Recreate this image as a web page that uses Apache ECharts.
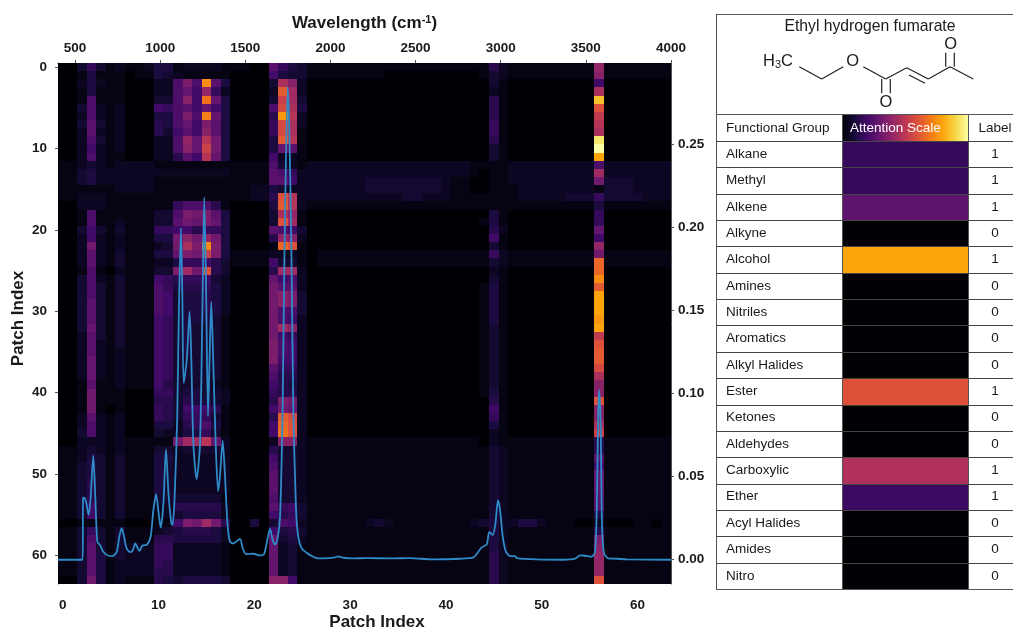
<!DOCTYPE html>
<html><head><meta charset="utf-8">
<style>html,body{margin:0;padding:0;background:#fff}#c{width:1013px;height:629px;filter:blur(0.55px)}</style>
<script src="https://cdn.jsdelivr.net/npm/echarts@6/dist/echarts.min.js"></script>
</head><body><div id="c"></div>
<script>
// Attention map: one string per patch row, one base-36 character per column (value = level / 35).
const heatRows = [
"00 36312 112 44122221 1100 9643 111111111111111111 152 111111111 e 1111111",
"00 14111 011 43211111 0000 7433 111111110000000000 132 111111111 d 1111111",
"00 24211 000 228c8q94 0000 3gd2 000000000000000000 031 000000000 7 0000000",
"00 14111 000 228a7e62 0000 2mf2 000000000000000000 021 000000000 g 0000000",
"00 18111 000 338d7oa4 0000 3jf3 000000000000000000 051 000000000 u 0000000",
"00 38212 000 76897a74 0000 8kg4 000000000000000000 051 000000000 l 0000000",
"00 28212 000 448c8pa4 0000 5rh2 000000000000000000 051 000000000 i 0000000",
"00 39312 000 548a7c94 0000 6kg2 000000000000000000 061 000000000 h 0000000",
"00 29212 000 53797d94 0000 6kg1 000000000000000000 061 000000000 g 0000000",
"00 28312 000 228eahb4 0000 4mh1 000000000000000000 051 000000000 x 0000000",
"00 27212 000 228dajb4 0000 4a91 000000000000000000 031 000000000 z 0000000",
"00 28211 000 22597ha4 0000 7221 000000000000000000 031 000000000 s 0000000",
"11 23212 222 11111111 1111 8321 222222222222222221 111 222222222 8 2222222",
"11 34222 222 22222222 1111 9862 222222222222222221 011 222222222 f 2222222",
"11 34222 222 11111111 1111 9972 222222333333332110 011 222222222 b 3332222",
"11 11112 222 11111111 1122 4322 222222333333332110 011 122222222 1 3332222",
"11 22211 111 11111111 1122 5lh2 222222222233222111 111 122222333 6 3333222",
"00 22211 111 11688851 0000 4mh2 111111111111111111 111 111111111 4 1111111",
"00 18111 111 338cbc94 0000 3ge1 000000000000000000 041 000000000 6 0000000",
"00 18112 111 339baca4 0000 3lf1 000000000000000000 141 000000000 6 0000000",
"00 37313 111 66775664 0000 9873 000000000000000000 052 000000000 a 0000000",
"00 27212 111 44bdbeb4 0000 5ed2 000000000000000000 071 000000000 7 0000000",
"00 2b212 111 23bgcqc4 0000 1nl1 000000000000000000 031 000000000 e 0000000",
"00 29213 111 44acbjc4 1111 2221 011111111111111111 162 111111111 b 1111111",
"00 29213 111 22466753 1111 7331 011111111111111111 132 111111111 n 1111111",
"00 18102 111 33cfbl53 0000 5ff2 000000000000000000 021 000000000 n 0000000",
"00 38213 111 76566732 0000 a782 000000000000000000 031 000000000 q 0000000",
"00 38313 111 86455642 0000 b992 000000000000000000 141 000000000 m 0000000",
"00 38313 111 87344542 0000 bdc3 000000000000000000 141 000000000 s 0000000",
"00 39313 111 87344542 0000 bdc3 000000000000000000 141 000000000 s 0000000",
"00 39313 111 87344542 0000 b883 000000000000000000 141 000000000 s 0000000",
"00 39313 111 76344431 0000 b872 000000000000000000 141 000000000 r 0000000",
"00 3a313 111 76343331 0000 bfd2 000000000000000000 131 000000000 s 0000000",
"00 29313 111 76343331 0000 b762 000000000000000000 131 000000000 i 0000000",
"00 29213 111 76343331 0000 c872 000000000000000000 131 000000000 l 0000000",
"00 29212 111 76343331 0000 c872 000000000000000000 131 000000000 m 0000000",
"00 2a212 111 76333331 0000 c772 000000000000000000 131 000000000 m 0000000",
"00 2a212 111 76333331 0000 9662 000000000000000000 131 000000000 k 0000000",
"00 2a212 111 76333331 0000 8552 000000000000000000 131 000000000 g 0000000",
"00 19112 111 75333321 0000 7542 000000000000000000 131 000000000 d 0000000",
"00 1b111 000 66344332 0000 6552 000000000000000000 141 000000000 d 0000000",
"00 1b111 000 55354432 0000 5cb2 000000000000000000 051 000000000 l 0000000",
"00 1b101 000 65377751 0000 7ba2 000000000000000000 071 000000000 d 0000000",
"00 29212 000 65366631 0000 5mk2 000000000000000000 061 000000000 d 0000000",
"00 28212 000 44256841 0000 7nl2 000000000000000000 041 000000000 g 0000000",
"00 38212 000 32244631 0000 7ol2 000000000000000000 021 000000000 j 0000000",
"00 22212 111 11bffha2 0000 2dd2 111111111111111111 021 111111111 5 1111111",
"11 23212 111 33233332 0000 5332 111111111111111111 132 111111111 5 1111111",
"11 24313 111 44222222 0000 7332 111111111111111111 132 111111111 9 1111111",
"11 34313 111 43222222 0000 8332 111111111111111111 132 111111111 7 1111111",
"11 34313 111 43222222 0000 9332 111111111111111111 132 111111111 a 1111111",
"11 35313 111 43222222 0000 9332 111111111111111111 132 111111111 a 1111111",
"11 35313 111 43222222 0000 9332 111111111111111111 132 111111111 a 1111111",
"11 35313 111 33333331 0000 8332 111111111111111111 132 111111111 9 1111111",
"11 37313 111 22555552 0000 9673 111111111111111111 132 111111111 9 1111111",
"11 37313 111 12344442 0000 7563 111111111111111111 132 111111111 4 1111111",
"00 11111 000 117cbfb5 0040 3872 111111232111111112 342 244211100 2 0001101",
"11 36313 111 23455542 0000 7453 111111111111111111 142 111111111 5 1111111",
"11 38313 111 55444442 0000 a342 111111111111111111 142 111111111 c 1111111",
"11 39313 222 66222221 0000 a231 111111111111111111 142 111111111 d 1111111",
"11 39413 222 66222221 0000 a231 111111111111111111 152 111111111 e 1111111",
"11 39412 222 65222221 0000 a231 111111111111111111 152 111111111 e 1111111",
"11 39412 222 55222221 0000 a231 111111111111111111 152 111111111 e 1111111",
"00 3b412 111 54344443 0000 dd71 111111111111111111 152 111111111 l 1111111"
];
// IR spectrum
const specWave = [400,545,547,553,564,580,592,607,619,631,647,666,696,721,745,760,774,788,803,823,838,854,866,878,897,921,944,960,976,991,1003,1019,1034,1050,1066,1073,1085,1100,1110,1122,1130,1138,1156,1173,1183,1195,1214,1234,1248,1259,1270,1281,1290,1300,1312,1326,1340,1351,1367,1381,1395,1410,1430,1469,1485,1504,1547,1586,1610,1625,1645,1661,1674,1688,1704,1719,1729,1749,1759,1772,1782,1798,1811,1831,1860,1890,1919,1968,2017,2046,2076,2134,2213,2350,2467,2600,2761,2839,2869,2888,2918,2933,2953,2969,2984,2996,3012,3031,3055,3084,3094,3211,3368,3436,3466,3495,3534,3554,3564,3573,3579,3587,3595,3607,3632,3681,3740,4000];
const specAbs = [0,0,.037,.0373,.035,.027,.038,.0626,.038,.0108,.0088,.0048,.0024,.0022,.0048,.0138,.019,.0138,.0068,.0046,.0054,.0098,.0074,.0054,.0086,.009,.0138,.0299,.0395,.0279,.0193,.0339,.0664,.0379,.0219,.0209,.0379,.085,.15,.1995,.16,.1063,.12,.1492,.12,.07,.0483,.07,.15,.218,.16,.0864,.12,.1552,.118,.07,.0413,.05,.0716,.05,.0219,.0108,.0098,.0126,.0068,.0034,.0036,.0026,.0034,.0098,.0185,.0118,.0092,.0118,.0259,.09,.1763,.2846,.2567,.1763,.09,.03,.0138,.0068,.0042,.0022,.001,.0008,.0012,.002,.0012,.0008,.001,.0008,.001,.0002,.0006,.0014,.0048,.0074,.0092,.0168,.0148,.0219,.0359,.03,.0138,.0048,.0022,.0022,.001,.0002,0,.0006,.0026,.0024,.0018,.0048,.03,.09,.102,.08,.02,.0038,.0008,.0006,.0002,0];
const patchLabels = Array.from({length:64},(_, i)=>String(i));
const waveTicks = [500,1000,1500,2000,2500,3000,3500,4000];
const absTicks = [0,0.05,0.10,0.15,0.20,0.25];
// Functional-group table
const groups = ["Alkane","Methyl","Alkene","Alkyne","Alcohol","Amines","Nitriles","Aromatics","Alkyl Halides","Ester","Ketones","Aldehydes","Carboxylic","Ether","Acyl Halides","Amides","Nitro"];
const attention = [0.17,0.17,0.27,0,0.8,0,0,0,0,0.6,0,0,0.47,0.18,0,0,0];
const labels = [1,1,1,0,1,0,0,0,0,1,0,0,1,1,0,0,0];
const inferno = ['#000004','#160b39','#420a68','#6a176e','#932667','#bc3754','#dd513a','#f37819','#fca50a','#f6d746','#fcffa4'];

const heatData = [];
heatRows.forEach((row, y) => {
  row.replace(/ /g,'').split('').forEach((c, x) => heatData.push([x, y, parseInt(c,36)/35]));
});
const FONT = '"Liberation Sans", Arial, sans-serif';
const axisLine = {show:true, lineStyle:{color:'#555', width:1}};
const tick = {show:true, length:3, lineStyle:{color:'#555', width:1}};
const tl = {color:'#1a1a1a', fontFamily:FONT, fontWeight:'bold', fontSize:13.5};
const nameStyle = {color:'#1a1a1a', fontFamily:FONT, fontWeight:'bold', fontSize:17};

const L = (x1,y1,x2,y2,w,c)=>({type:'line', shape:{x1,y1,x2,y2}, style:{stroke:c||'#555', lineWidth:w||1}, z:50, silent:true});
const T = (x,y,text,o)=>({type:'text', x, y, z:51, silent:true, style:Object.assign({text, fill:'#1a1a1a', font:'13.5px '+FONT, align:'left', verticalAlign:'middle'}, o||{})});
const g = [];
const rowH = 448/17, top0 = 141;
// table frame
g.push(L(716,14.5,1013,14.5), L(716.5,14,716.5,589), L(716,114.5,1013,114.5), L(716,589.5,1013,589.5),
       L(842.5,114,842.5,589), L(968.5,114,968.5,589));
for (let i=0;i<groups.length;i++){ const y=Math.round(top0+i*rowH)+.5; g.push(L(716,y,1013,y,1,'#444')); }
g.push({type:'rect', shape:{x:842,y:115,width:126,height:26}, z:49, silent:true,
  style:{fill:new echarts.graphic.LinearGradient(0,0,1,0,inferno.map((c,i)=>({offset:i/10,color:c})))}});
g.push(T(726,128,'Functional Group'), T(850,128,'Attention Scale',{fill:'#fff'}), T(995,128,'Label',{align:'center'}));
g.push(T(870,27,'Ethyl hydrogen fumarate',{align:'center',font:'15.7px '+FONT}));
// molecule drawing
const bonds=[[799.3,66.7,821.7,79],[821.7,79,843.3,66.7],[863.3,66.7,885.7,79],[881.7,79,881.7,93.3],[890.3,79,890.3,93.3],
 [885.7,79,906.7,67.7],[906.7,67.7,928.3,79],[909,75,925,83.3],[928.3,79,950,66.7],[945.7,66.7,945.7,52.7],[954.3,66.7,954.3,52.7],[950,66.7,973.3,79]];
bonds.forEach(b=>g.push(L(b[0],b[1],b[2],b[3],1.2,'#222')));
g.push(T(778,61,'H{s|3}C',{align:'center',font:'16.5px '+FONT,rich:{s:{font:'11px '+FONT,verticalAlign:'bottom',padding:[8,0,0,0],fill:'#1a1a1a'}}}));
g.push(T(852.7,61,'O',{align:'center',font:'16.5px '+FONT}), T(886,102,'O',{align:'center',font:'16.5px '+FONT}), T(950.7,44,'O',{align:'center',font:'16.5px '+FONT}));

// Cells snapped to whole pixels through the axes, so neighbouring cells leave no seams.
const cell = (params, api) => {
  const c = api.coord([api.value(0), api.value(1)]), s = api.size([1,1]);
  const x0 = Math.round(c[0]-s[0]/2), x1 = Math.round(c[0]+s[0]/2), y0 = Math.round(c[1]-s[1]/2), y1 = Math.round(c[1]+s[1]/2);
  return {type:'rect', shape:{x:x0,y:y0,width:x1-x0,height:y1-y0}, style:{fill:api.visual('color')}};
};
const chart = echarts.init(document.getElementById('c'), null, {renderer:'canvas'});
chart.setOption({
  animation:false, backgroundColor:'#fff',
  grid:[{left:58,top:63,width:613,height:521,outerBoundsMode:'none'},{left:842,top:141,width:126,height:448,outerBoundsMode:'none'}],
  visualMap:{show:false, min:0, max:1, dimension:2, seriesIndex:[0,2], inRange:{color:inferno}},
  xAxis:[
    {type:'category', gridIndex:0, position:'bottom', data:patchLabels, boundaryGap:true,
     name:'Patch Index', nameLocation:'middle', nameGap:38, nameMoveOverlap:false, nameTextStyle:Object.assign({padding:[0,0,0,25],verticalAlign:'middle'},nameStyle),
     axisLine, axisTick:Object.assign({alignWithLabel:true, interval:9},tick), axisLabel:Object.assign({interval:9, margin:14},tl), splitLine:{show:false}},
    {type:'value', gridIndex:0, position:'top', min:400, max:4000,
     name:'Wavelength (cm{s|-1})', nameLocation:'middle', nameGap:30,
     nameTextStyle:Object.assign({rich:{s:{fontFamily:FONT,fontWeight:'bold',fontSize:11,color:'#1a1a1a',verticalAlign:'top',padding:[0,0,8,0]}}},nameStyle),
     axisLine, axisTick:Object.assign({customValues:waveTicks},tick), axisLabel:Object.assign({customValues:waveTicks, margin:8, formatter:v=>String(v)},tl), splitLine:{show:false}},
    {type:'category', gridIndex:1, data:['Attention'], show:false}
  ],
  yAxis:[
    {type:'category', gridIndex:0, position:'left', inverse:true, data:patchLabels, boundaryGap:true,
     name:'Patch Index', nameLocation:'middle', nameGap:40, nameMoveOverlap:false, nameRotate:90, nameTextStyle:Object.assign({padding:[0,0,0,10],verticalAlign:'middle'},nameStyle),
     axisLine, axisTick:Object.assign({alignWithLabel:true, interval:9},tick), axisLabel:Object.assign({interval:9, margin:11},tl), splitLine:{show:false}},
    {type:'value', gridIndex:0, position:'right', min:-0.0146, max:0.2988,
     axisLine, axisTick:Object.assign({customValues:absTicks},tick), axisLabel:Object.assign({customValues:absTicks, margin:7, formatter:v=>v.toFixed(2)},tl), splitLine:{show:false}},
    {type:'category', gridIndex:1, position:'left', inverse:true, data:groups,
     axisLine:{show:false}, axisTick:{show:false}, axisLabel:{interval:0, align:'left', margin:116, color:'#1a1a1a', fontFamily:FONT, fontSize:13.5}},
    {type:'category', gridIndex:1, position:'right', inverse:true, data:labels.map(String),
     axisLine:{show:false}, axisTick:{show:false}, axisLabel:{interval:0, align:'center', margin:27, color:'#1a1a1a', fontFamily:FONT, fontSize:13.5}}
  ],
  series:[
    {type:'custom', xAxisIndex:0, yAxisIndex:0, data:heatData, renderItem:cell, encode:{x:0,y:1}, silent:true},
    {type:'line', xAxisIndex:1, yAxisIndex:1, data:specWave.map((w,i)=>[w,specAbs[i]]), showSymbol:false, smooth:0.25, z:5, silent:true,
     lineStyle:{color:'#2f8ac8', width:1.8}},
    {type:'custom', xAxisIndex:2, yAxisIndex:2, data:attention.map((v,i)=>[0,i,v]), renderItem:cell, encode:{x:0,y:1}, silent:true}
  ],
  graphic:g
});
</script></body></html>
